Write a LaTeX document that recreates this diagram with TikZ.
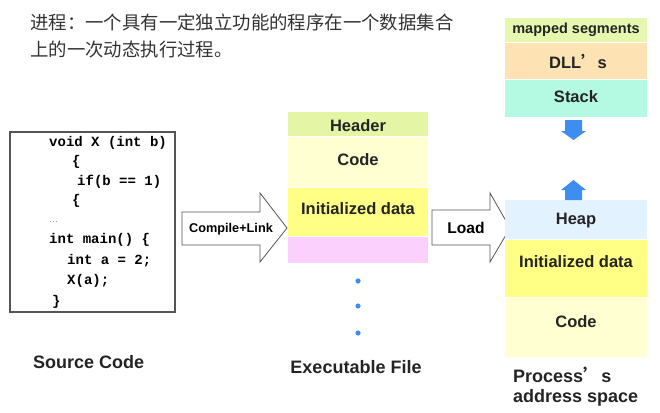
\documentclass[tikz,border=0pt]{standalone}
\usepackage{fontspec}
\setmainfont{Liberation Sans}
\setmonofont{Liberation Mono}
\newfontfamily\cjk{Noto Sans CJK SC}
\definecolor{txtgray}{HTML}{333333}
\definecolor{boxgray}{HTML}{555555}
\definecolor{hdrgreen}{HTML}{E4F5A6}
\definecolor{codeyel}{HTML}{FFFFD2}
\definecolor{datayel}{HTML}{FFFF85}
\definecolor{bsspink}{HTML}{FCD0FC}
\definecolor{mapgreen}{HTML}{E6F8B0}
\definecolor{dllpeach}{HTML}{FDE2B4}
\definecolor{stackaqua}{HTML}{B4FAE2}
\definecolor{heapblue}{HTML}{E2F2FF}
\definecolor{growblue}{HTML}{3D8EF0}
\tikzset{
  seglabel/.style={inner sep=0pt,text=txtgray!70!black,font=\bfseries\fontsize{16.5}{17}\selectfont},
  codeline/.style={anchor=west,inner sep=0pt,font=\ttfamily\bfseries\fontsize{14}{14}\selectfont},
  caption/.style={anchor=west,inner sep=0pt,text=txtgray!70!black,font=\bfseries\fontsize{18}{20}\selectfont},
  blockarrow/.style={draw=boxgray,fill=white,line width=0.8pt,line join=miter},
}
\begin{document}
\begin{tikzpicture}[x=1pt,y=-1pt]
\useasboundingbox (0,0) rectangle (660,412);
% definition
\node[anchor=west,inner sep=0pt,text=txtgray,font=\cjk\fontsize{18.4}{18}\selectfont] (def1) at (30,22) {进程：一个具有一定独立功能的程序在一个数据集合};
\node[anchor=west,inner sep=0pt,text=txtgray,font=\cjk\fontsize{18.4}{18}\selectfont] (def2) at (30,50) {上的一次动态执行过程。};
% source code
\draw[boxgray,line width=1.2pt] (10,132) rectangle (175,312);
\foreach \y/\x/\ltext in {143/49/void X (int b),162/72/\{,182/77/if(b == 1),201/72/\{,261/67/int a = 2;,281/67/X(a);,302/52/\}}
  \node[codeline] at (\x,\y) {\ltext};
\node[codeline] (mainline) at (49,240) {int main() \{};
\node[anchor=west,inner sep=0pt,text=gray,font=\fontsize{9}{9}\selectfont] (gap) at (49,222) {…};
\node[caption] (srccap) at (33,362) {Source Code};
% compile arrow
\draw[blockarrow] (182,212) -- (260,212) -- (260,193) -- (287,228) -- (260,262) -- (260,245) -- (182,245) -- cycle;
\node[inner sep=0pt,font=\bfseries\fontsize{12.7}{13}\selectfont] (compile) at (231,229) {Compile+Link};
% executable file
\foreach \ya/\yb/\col in {112/136/hdrgreen,137/187/codeyel,188/236/datayel,237/263/bsspink}
  \fill[\col] (288,\ya) rectangle (428,\yb);
\node[seglabel] (exhdr) at (358,126) {Header};
\node[seglabel] (excode) at (358,160) {Code};
\node[seglabel] (exdata) at (358,209) {Initialized data};
\foreach \y in {281,306,333}
  \fill[growblue] (358,\y) circle (2.6);
\node[caption,anchor=center] (execap) at (356,367) {Executable File};
% load arrow
\draw[blockarrow] (432,210) -- (490,210) -- (490,193) -- (510,228) -- (490,262) -- (490,245) -- (432,245) -- cycle;
\node[inner sep=0pt,font=\bfseries\fontsize{15.6}{16}\selectfont] (load) at (466,228) {Load};
% address space
\foreach \ya/\yb/\col in {18/42/mapgreen,43/79/dllpeach,80/117/stackaqua,200/239/heapblue,240/297/datayel,298/357/codeyel}
  \fill[\col] (505,\ya) rectangle (647,\yb);
\node[seglabel,font=\bfseries\fontsize{14.5}{15}\selectfont] (mapped) at (576,30) {mapped segments};
\node[seglabel] (dll) at (578,62) {DLL{\cjk ’}s};
\node[seglabel] (stack) at (576,97) {Stack};
\node[seglabel] (heap) at (576,221) {Heap};
\node[seglabel] (asdata) at (576,262) {Initialized data};
\node[seglabel] (ascode) at (576,322) {Code};
\fill[growblue] (565,120) -- (582,120) -- (582,131) -- (586,131) -- (573.5,140) -- (561,131) -- (565,131) -- cycle;
\fill[growblue] (565,200) -- (582,200) -- (582,190) -- (586,190) -- (573.5,180) -- (561,190) -- (565,190) -- cycle;
\node[caption] (ascap1) at (513,375) {Process{\cjk ’}s};
\node[caption] (ascap2) at (513,398) {address space};
\end{tikzpicture}
\end{document}
